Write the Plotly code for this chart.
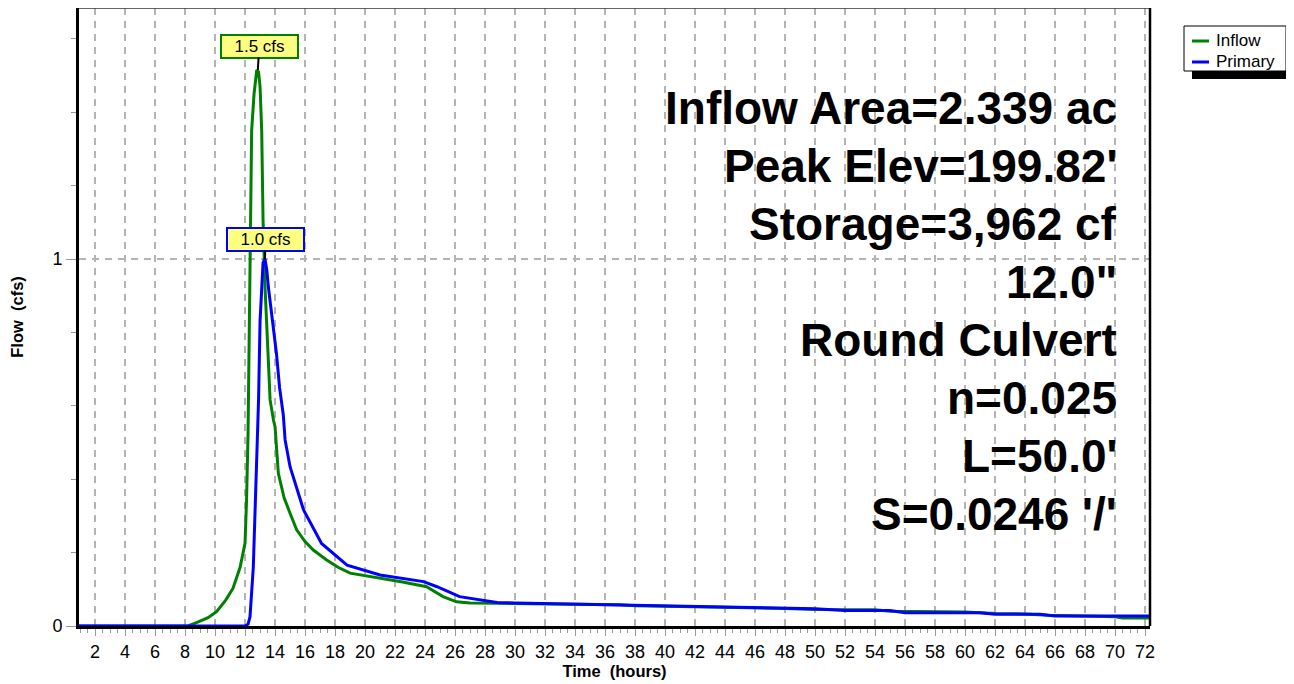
import plotly.graph_objects as go

# ---- data (hours, cfs) ----
inflow_t = [0, 8.2, 8.8, 9.5, 10.1, 10.7, 11.2, 11.67, 12.0, 12.1, 12.2, 12.27, 12.33, 12.44, 12.6, 12.78, 12.9, 13.0, 13.11, 13.2, 13.33,
            13.55, 13.67, 13.9, 14.0, 14.22, 14.6, 15.0, 15.44, 16.0, 16.55, 17.44, 18.2, 19.0, 20.0, 21.2, 22.5, 24.1,
            24.6, 25.2, 26.1, 27.0, 28.8, 32, 36, 37, 38, 44, 48, 50, 54, 55, 60, 62, 64, 65.5, 68, 70, 70.5, 72.3]
inflow_q = [0, 0, 0.01, 0.022, 0.039, 0.07, 0.103, 0.16, 0.226, 0.343, 0.526, 0.75, 1.1, 1.35, 1.45, 1.515, 1.51, 1.47, 1.35, 1.106, 0.925,
            0.70, 0.616, 0.56, 0.543, 0.416, 0.35, 0.307, 0.262, 0.23, 0.207, 0.18, 0.16, 0.144, 0.137, 0.13, 0.12, 0.107,
            0.095, 0.08, 0.066, 0.063, 0.062, 0.06, 0.058, 0.058, 0.055, 0.052, 0.048, 0.045, 0.044, 0.04, 0.038, 0.034, 0.033, 0.029, 0.027, 0.025, 0.022, 0.022]

primary_t = [0, 12.0, 12.2, 12.33, 12.55, 12.78, 12.9, 13.0, 13.2, 13.33, 13.45, 13.55, 13.9, 14.1, 14.3, 14.55, 14.67, 15.0,
             15.9, 17.1, 18.8, 21.0, 23.9, 24.8, 26.3, 28.8, 30, 34, 38, 42, 46, 50, 52, 55, 56, 61, 62, 65, 66, 72.3]
primary_q = [0, 0, 0.005, 0.025, 0.16, 0.43, 0.616, 0.83, 0.99, 1.0, 0.97, 0.925, 0.807, 0.74, 0.65, 0.575, 0.507, 0.434,
             0.316, 0.225, 0.166, 0.139, 0.121, 0.107, 0.08, 0.064, 0.063, 0.06, 0.057, 0.055, 0.052, 0.047, 0.042, 0.042, 0.036, 0.036, 0.032, 0.032, 0.027, 0.027]

series_names = ["Inflow", "Primary"]
series_colors = ["#008000", "#0000FF"]

peak_labels = ["1.5 cfs", "1.0 cfs"]
peak_t = [12.85, 13.33]
peak_q = [1.515, 1.0]

info_lines = ["Inflow Area=2.339 ac", "Peak Elev=199.82'", "Storage=3,962 cf", "12.0\"",
              "Round Culvert", "n=0.025", "L=50.0'", "S=0.0246 '/'"]

x_ticks = list(range(2, 73, 2))
y_ticks = [0, 1]

FONT = "Liberation Sans, Arial, sans-serif"

fig = go.Figure()
fig.add_trace(go.Scatter(x=inflow_t, y=inflow_q, mode="lines", name=series_names[0],
                         line=dict(color=series_colors[0], width=3), showlegend=False))
fig.add_trace(go.Scatter(x=primary_t, y=primary_q, mode="lines", name=series_names[1],
                         line=dict(color=series_colors[1], width=3), showlegend=False))

# The page body has an 8px margin: page pixel p -> figure pixel p - 8
OFF = 8
W, H = 1286, 676
# plot area in page pixels: left 79, right 1150, top ~8, bottom 626
L, R, T, B = 79 - OFF, 1150 - OFF, 0, 626 - OFF
pw, ph = R - L, B - T

def px_x(p):  # page pixel -> paper x
    return (p - OFF - L) / pw

def px_y(p):  # page pixel -> paper y
    return (B - (p - OFF)) / ph

annotations = []
# peak labels
box_offsets = [(1.5, -24), (0.5, -20)]
for lab, t, q, (dx, dy), bc in zip(peak_labels, peak_t, peak_q, box_offsets, series_colors):
    annotations.append(dict(x=t, y=q, xref="x", yref="y", text=lab, showarrow=True,
                            arrowhead=0, arrowwidth=2, arrowcolor="black", ax=dx, ay=dy,
                            standoff=0, startstandoff=0,
                            bgcolor="#FFFF80", bordercolor=bc, borderwidth=2, borderpad=0,
                            width=75, height=21,
                            font=dict(family=FONT, size=17, color="black")))

# info text block
line_centers = [108, 166, 224, 282, 340, 398, 456, 514]
for txt, yc in zip(info_lines, line_centers):
    annotations.append(dict(x=px_x(1119), y=px_y(yc), xref="paper", yref="paper", text="<b>" + txt + "</b>",
                            showarrow=False, xanchor="right", yanchor="middle",
                            font=dict(family=FONT, size=46, color="black")))

shapes = [
    # thin top / right frame
    dict(type="line", xref="paper", yref="paper", x0=0, x1=1, y0=1, y1=1, line=dict(color="#333333", width=1.5)),
    dict(type="line", xref="paper", yref="paper", x0=1, x1=1, y0=0, y1=1, line=dict(color="black", width=2.5)),
    # legend shadow and box
    dict(type="rect", xref="paper", yref="paper", x0=px_x(1192), x1=px_x(1291), y0=px_y(79), y1=px_y(33),
         fillcolor="black", line=dict(width=0), layer="above"),
    dict(type="rect", xref="paper", yref="paper", x0=px_x(1184), x1=px_x(1286), y0=px_y(71), y1=px_y(26),
         fillcolor="white", line=dict(color="black", width=1), layer="above"),
]

# legend entries (drawn from the series names / colours)
legend_rows = [41, 62]
for name, col, yc in zip(series_names, series_colors, legend_rows):
    shapes.append(dict(type="line", xref="paper", yref="paper", x0=px_x(1192), x1=px_x(1209),
                       y0=px_y(yc), y1=px_y(yc), line=dict(color=col, width=3), layer="above"))
    annotations.append(dict(x=px_x(1214), y=px_y(yc), xref="paper", yref="paper", text=name,
                            showarrow=False, xanchor="left", yanchor="middle",
                            font=dict(family=FONT, size=17, color="black")))

fig.update_layout(
    width=W, height=H,
    margin=dict(l=L, r=W - R, t=T, b=H - B, pad=0, autoexpand=False),
    paper_bgcolor="white", plot_bgcolor="white",
    font=dict(family=FONT, size=14, color="black"),
    showlegend=False,
    annotations=annotations,
    shapes=shapes,
)

fig.update_xaxes(
    range=[0.93, 72.33], tickmode="array", tickvals=x_ticks, ticktext=[str(v) for v in x_ticks],
    showline=True, linecolor="black", linewidth=3, mirror=False,
    ticks="outside", ticklen=7, tickcolor="#999999", tickwidth=1,
    minor=dict(dtick=0.5, tick0=0, ticks="outside", ticklen=4, tickcolor="#999999", showgrid=False),
    showgrid=True, gridcolor="#B4B4B4", gridwidth=1.5, griddash="7px,6px",
    zeroline=False,
    title=dict(text="<b>Time \u00a0(hours)</b>", font=dict(family=FONT, size=16.5), standoff=2),
    tickfont=dict(family=FONT, size=18),
)
fig.update_yaxes(
    range=[0, ph / 367.0], tickmode="array", tickvals=y_ticks, ticktext=["0", "1"],
    showline=True, linecolor="black", linewidth=3, mirror=False,
    ticks="outside", ticklen=10, tickcolor="#999999", tickwidth=1,
    minor=dict(dtick=0.2, tick0=0, ticks="outside", ticklen=5, tickcolor="#999999", showgrid=False),
    showgrid=True, gridcolor="#B4B4B4", gridwidth=1.5, griddash="7px,6px",
    zeroline=False,
    title=dict(text="<b>Flow \u00a0(cfs)</b>", font=dict(family=FONT, size=16.5), standoff=30),
    tickfont=dict(family=FONT, size=18),
)

fig.write_html("out.html")
